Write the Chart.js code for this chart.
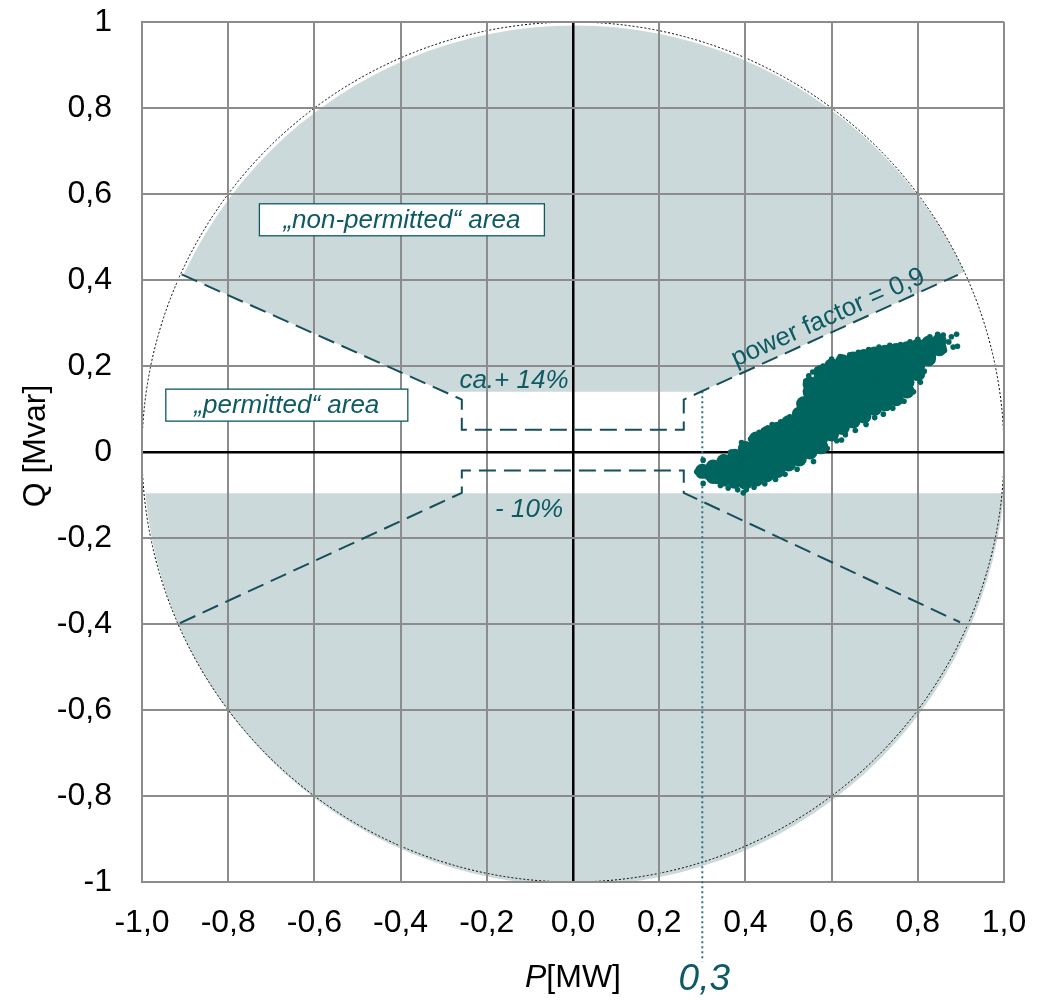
<!DOCTYPE html>
<html>
<head>
<meta charset="utf-8">
<title>P-Q diagram</title>
<script src="https://cdn.jsdelivr.net/npm/chart.js@4.4.1/dist/chart.umd.min.js"></script>
<style>
  html, body { margin: 0; padding: 0; background: #fff; }
  canvas { display: block; }
</style>
</head>
<body>
<canvas id="pq" width="1042" height="1000"></canvas>
<script>
// tick labels (decimal comma as in the original)
const xTickLabels = ["-1,0", "-0,8", "-0,6", "-0,4", "-0,2", "0,0", "0,2", "0,4", "0,6", "0,8", "1,0"];
const yTickLabels = ["-1", "-0,8", "-0,6", "-0,4", "-0,2", "0", "0,2", "0,4", "0,6", "0,8", "1"];

// limit curves [P, Q]
const upperLimit = [[-0.908, 0.413], [-0.258, 0.122], [-0.258, 0.052], [0.257, 0.052], [0.257, 0.122], [0.893, 0.412]];
const lowerLimit = [[-0.912, -0.398], [-0.258, -0.095], [-0.258, -0.043], [0.257, -0.043], [0.257, -0.095], [0.898, -0.396]];
const permittedZone = [[-1.1, 0.5], [-0.298, 0.14], [0.296, 0.14], [1.1, 0.506], [1.1, -0.096], [-1.1, -0.096]];
const S_MAX = 1;          // apparent power circle
const markerP = 0.3;
const markerLine = [[0.3, 0.141], [0.3, -1.185]];

// measured operating points [P, Q] - dense core
const corePoints = [
  [0.30, -0.045],
  [0.325, -0.057], [0.325, -0.035],
  [0.35, -0.063], [0.35, -0.042], [0.35, -0.022],
  [0.375, -0.068], [0.375, -0.047], [0.375, -0.026], [0.375, -0.01],
  [0.40, -0.07], [0.40, -0.05], [0.40, -0.03], [0.40, -0.01], [0.40, 0.008],
  [0.425, -0.063], [0.425, -0.043], [0.425, -0.023], [0.425, -0.003], [0.425, 0.017], [0.425, 0.03],
  [0.45, -0.053], [0.45, -0.033], [0.45, -0.013], [0.45, 0.007], [0.45, 0.027], [0.45, 0.043],
  [0.475, -0.043], [0.475, -0.023], [0.475, -0.003], [0.475, 0.017], [0.475, 0.037], [0.475, 0.053],
  [0.50, -0.028], [0.50, -0.008], [0.50, 0.012], [0.50, 0.032], [0.50, 0.052], [0.50, 0.068],
  [0.525, -0.016], [0.525, 0.004], [0.525, 0.024], [0.525, 0.044], [0.525, 0.064], [0.525, 0.088], [0.535, 0.112],
  [0.55, 0.0], [0.55, 0.02], [0.55, 0.04], [0.55, 0.06], [0.55, 0.08], [0.55, 0.10], [0.55, 0.12], [0.55, 0.14], [0.55, 0.158],
  [0.575, 0.012], [0.575, 0.032], [0.575, 0.052], [0.575, 0.072], [0.575, 0.092], [0.575, 0.112], [0.575, 0.132], [0.575, 0.152], [0.575, 0.172], [0.575, 0.185],
  [0.60, 0.042], [0.60, 0.062], [0.60, 0.082], [0.60, 0.102], [0.60, 0.122], [0.60, 0.142], [0.60, 0.162], [0.60, 0.182], [0.60, 0.20],
  [0.625, 0.057], [0.625, 0.077], [0.625, 0.097], [0.625, 0.117], [0.625, 0.137], [0.625, 0.157], [0.625, 0.177], [0.625, 0.197], [0.625, 0.21],
  [0.65, 0.072], [0.65, 0.092], [0.65, 0.112], [0.65, 0.132], [0.65, 0.152], [0.65, 0.172], [0.65, 0.192], [0.65, 0.216],
  [0.675, 0.084], [0.675, 0.104], [0.675, 0.124], [0.675, 0.144], [0.675, 0.164], [0.675, 0.184], [0.675, 0.204], [0.675, 0.222],
  [0.70, 0.102], [0.70, 0.122], [0.70, 0.142], [0.70, 0.162], [0.70, 0.182], [0.70, 0.202], [0.70, 0.228],
  [0.725, 0.112], [0.725, 0.132], [0.725, 0.152], [0.725, 0.172], [0.725, 0.192], [0.725, 0.212], [0.725, 0.232],
  [0.75, 0.124], [0.75, 0.144], [0.75, 0.164], [0.75, 0.184], [0.75, 0.204], [0.75, 0.224], [0.75, 0.236],
  [0.775, 0.142], [0.775, 0.162], [0.775, 0.182], [0.775, 0.202], [0.775, 0.222], [0.775, 0.24],
  [0.80, 0.182], [0.80, 0.202], [0.80, 0.222], [0.80, 0.246],
  [0.825, 0.217], [0.825, 0.237], [0.825, 0.253],
  [0.85, 0.24], [0.85, 0.258],
];

// measured operating points [P, Q] - scattered edge points
const edgePoints = [
  [0.287, -0.046], [0.302, -0.019], [0.302, -0.073], [0.312, -0.058], [0.318, -0.03], [0.333, -0.068],
  [0.342, -0.078], [0.348, -0.012], [0.36, -0.084], [0.366, 0.0], [0.382, -0.088], [0.391, 0.022],
  [0.395, -0.095], [0.402, -0.088], [0.412, 0.03], [0.42, -0.082], [0.432, 0.046], [0.445, -0.074],
  [0.452, 0.056], [0.462, 0.064], [0.47, -0.064], [0.482, 0.07], [0.492, -0.052], [0.503, 0.082],
  [0.519, 0.09], [0.52, -0.04], [0.532, 0.108], [0.54, 0.165], [0.547, 0.177], [0.556, 0.186],
  [0.558, -0.022], [0.566, 0.192], [0.58, 0.2], [0.59, 0.008], [0.6, 0.216], [0.612, 0.026],
  [0.62, 0.222], [0.623, 0.028], [0.632, 0.04], [0.642, 0.226], [0.655, 0.05], [0.662, 0.232],
  [0.68, 0.064], [0.686, 0.238], [0.7, 0.08], [0.71, 0.244], [0.72, 0.088], [0.735, 0.248],
  [0.742, 0.102], [0.76, 0.25], [0.768, 0.118], [0.782, 0.256], [0.79, 0.14], [0.8, 0.262],
  [0.806, 0.162], [0.815, 0.188], [0.828, 0.268], [0.836, 0.222], [0.846, 0.274], [0.859, 0.272],
  [0.862, 0.236], [0.872, 0.256], [0.878, 0.268], [0.89, 0.274], [0.892, 0.246], [0.882, 0.244],
];

const TEAL = "#0d5a63";
const DOT = "#00655f";
const SHADE = "#cbd9db";
const GRID = "#8c8c8c";
const FONT = "'Liberation Sans', Arial, sans-serif";

const toXY = pts => pts.map(([x, y]) => ({ x, y }));

const zonesPlugin = {
  id: "zones",
  beforeDraw(chart) {
    const { ctx, chartArea: a, scales: { x, y } } = chart;
    const rx = x.getPixelForValue(S_MAX) - x.getPixelForValue(0);
    const ry = y.getPixelForValue(0) - y.getPixelForValue(S_MAX);
    ctx.save();
    ctx.beginPath();
    ctx.rect(a.left, a.top, a.right - a.left, a.bottom - a.top);
    ctx.clip();
    // shaded "non-permitted" disc
    ctx.fillStyle = SHADE;
    ctx.beginPath();
    ctx.ellipse(x.getPixelForValue(0.004), y.getPixelForValue(-0.008), rx, ry, 0, 0, Math.PI * 2);
    ctx.fill();
    // permitted zone cut out
    ctx.fillStyle = "#fff";
    ctx.beginPath();
    permittedZone.forEach(([p, q], i) => {
      const px = x.getPixelForValue(p), py = y.getPixelForValue(q);
      i ? ctx.lineTo(px, py) : ctx.moveTo(px, py);
    });
    ctx.closePath();
    ctx.fill();
    // dotted circle
    ctx.strokeStyle = "#000";
    ctx.lineWidth = 1;
    ctx.setLineDash([2, 2]);
    ctx.beginPath();
    ctx.ellipse(x.getPixelForValue(0), y.getPixelForValue(0), rx, ry, 0, 0, Math.PI * 2);
    ctx.stroke();
    ctx.restore();
  },
};

function labelBox(ctx, text, cx, cy, w, h) {
  ctx.fillStyle = "#fff";
  ctx.fillRect(cx - w / 2, cy - h / 2, w, h);
  ctx.strokeStyle = TEAL;
  ctx.lineWidth = 1.3;
  ctx.strokeRect(cx - w / 2, cy - h / 2, w, h);
  ctx.fillStyle = TEAL;
  ctx.fillText(text, cx, cy + 1);
}

const notesPlugin = {
  id: "notes",
  afterDatasetsDraw(chart) {
    const { ctx, scales: { x, y } } = chart;
    ctx.save();
    ctx.font = `italic 26px ${FONT}`;
    ctx.textAlign = "center";
    ctx.textBaseline = "middle";
    labelBox(ctx, "„non-permitted“ area", x.getPixelForValue(-0.397), y.getPixelForValue(0.54), 285, 32);
    labelBox(ctx, "„permitted“ area", x.getPixelForValue(-0.664), y.getPixelForValue(0.109), 242, 32);
    ctx.fillStyle = TEAL;
    ctx.fillText("ca.+ 14%", x.getPixelForValue(-0.137), y.getPixelForValue(0.165));
    ctx.fillText("- 10%", x.getPixelForValue(-0.102), y.getPixelForValue(-0.135));
    // power factor label along the limit line
    ctx.font = `26px ${FONT}`;
    ctx.translate(x.getPixelForValue(0.592), y.getPixelForValue(0.312));
    ctx.rotate(-24 * Math.PI / 180);
    ctx.fillText("power factor = 0,9", 0, 0);
    ctx.restore();
  },
};

const titlesPlugin = {
  id: "titles",
  afterDraw(chart) {
    const { ctx, chartArea: a, scales: { x } } = chart;
    ctx.save();
    ctx.fillStyle = "#000";
    ctx.textBaseline = "middle";
    ctx.textAlign = "left";
    // x title: P[MW]
    const it = `italic 32px ${FONT}`, nr = `32px ${FONT}`;
    ctx.font = it; const wP = ctx.measureText("P").width;
    ctx.font = nr; const wU = ctx.measureText("[MW]").width;
    const sx = (a.left + a.right) / 2 - (wP + wU) / 2;
    ctx.font = it; ctx.fillText("P", sx, 978);
    ctx.font = nr; ctx.fillText("[MW]", sx + wP, 978);
    // y title: Q [Mvar]
    ctx.translate(36, 446);
    ctx.rotate(-Math.PI / 2);
    ctx.font = nr;
    ctx.textAlign = "center";
    ctx.fillText("Q [Mvar]", 0, 0);
    ctx.restore();
    // marker value
    ctx.save();
    ctx.fillStyle = TEAL;
    ctx.font = `italic 37px ${FONT}`;
    ctx.textAlign = "center";
    ctx.textBaseline = "middle";
    ctx.fillText(String(markerP).replace(".", ","), x.getPixelForValue(markerP) + 2, 980);
    ctx.restore();
  },
};

const isZero = v => Math.abs(v) < 1e-9;
const gridOpts = {
  color: c => (c.tick && isZero(c.tick.value) ? "#000" : GRID),
  lineWidth: c => (c.tick && isZero(c.tick.value) ? 2.5 : 2),
  drawTicks: false,
};

new Chart(document.getElementById("pq"), {
  type: "scatter",
  data: {
    datasets: [
      {
        data: toXY(corePoints),
        pointRadius: 7.5, pointHoverRadius: 7.5,
        backgroundColor: DOT, borderWidth: 0,
      },
      {
        data: toXY(edgePoints),
        pointRadius: 2.8, pointHoverRadius: 2.8,
        backgroundColor: DOT, borderWidth: 0,
      },
      {
        data: toXY(upperLimit), showLine: true, pointRadius: 0,
        borderColor: "#164f5a", borderWidth: 2, borderDash: [17, 8],
      },
      {
        data: toXY(lowerLimit), showLine: true, pointRadius: 0,
        borderColor: "#164f5a", borderWidth: 2, borderDash: [17, 8],
      },
      {
        data: toXY(markerLine), showLine: true, pointRadius: 0, clip: false,
        borderColor: "#2f7480", borderWidth: 2, borderDash: [2, 3],
      },
    ],
  },
  options: {
    responsive: false,
    animation: false,
    devicePixelRatio: 1,
    layout: { padding: { top: 22, right: 38, left: 0, bottom: 0 } },
    plugins: { legend: { display: false }, tooltip: { enabled: false } },
    scales: {
      x: {
        type: "linear", min: -1, max: 1,
        ticks: {
          stepSize: 0.2, padding: 22, color: "#000",
          font: { family: FONT, size: 32 },
          callback: (v, i) => xTickLabels[i],
        },
        grid: gridOpts,
        border: { color: GRID, width: 2 },
        afterFit: s => { s.height = 118; s.paddingLeft = 0; s.paddingRight = 0; },
      },
      y: {
        type: "linear", min: -1, max: 1,
        ticks: {
          stepSize: 0.2, padding: 30, color: "#000",
          font: { family: FONT, size: 32 },
          callback: (v, i) => yTickLabels[i],
        },
        grid: gridOpts,
        border: { color: GRID, width: 2 },
        afterFit: s => { s.width = 142; s.paddingTop = 0; s.paddingBottom = 0; },
      },
    },
  },
  plugins: [zonesPlugin, notesPlugin, titlesPlugin],
});
</script>
</body>
</html>
